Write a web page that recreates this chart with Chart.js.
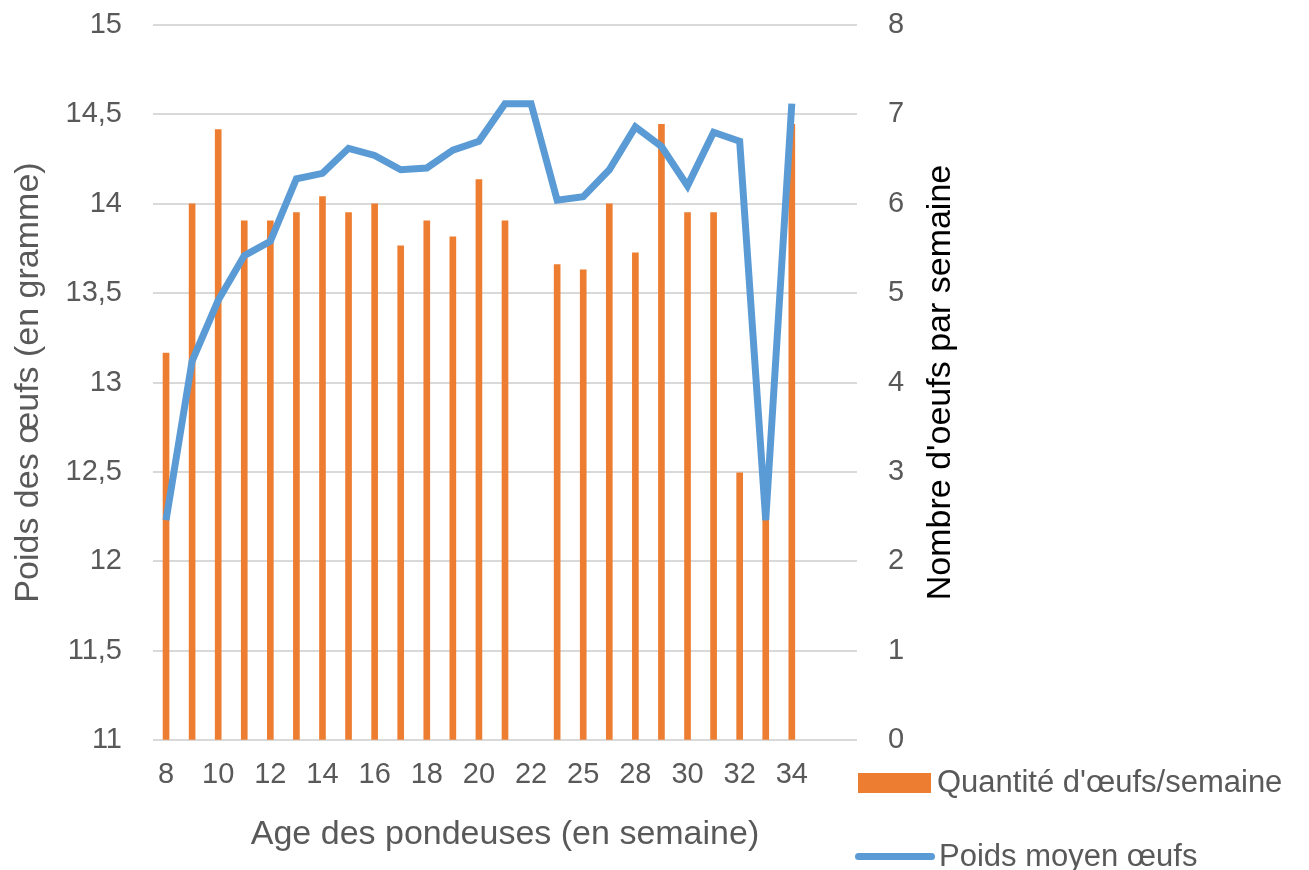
<!DOCTYPE html>
<html>
<head>
<meta charset="utf-8">
<script src="https://cdn.jsdelivr.net/npm/chart.js@4"></script>
<style>
  body { margin: 0; background: #fff; }
  #wrap { position: relative; width: 1309px; height: 870px; overflow: hidden; }
  .leg { position: absolute; font-family: "Liberation Sans", Arial, sans-serif; font-size: 31px; color: #595959; white-space: nowrap; }
  .sw { position: absolute; }
</style>
</head>
<body>
<div id="wrap">
  <canvas id="eggChart" width="1309" height="870"></canvas>
  <div class="sw" style="left:858px; top:773px; width:73px; height:20px; background:#ed7d31;"></div>
  <div class="leg" style="left:937px; top:764px;">Quantité d'œufs/semaine</div>
  <div class="sw" style="left:855px; top:853px; width:80px; height:7px; border-radius:4px; background:#5b9bd5;"></div>
  <div class="leg" style="left:939px; top:838px;">Poids moyen œufs</div>
</div>
<script>
// age des pondeuses (semaines) - deux colonnes vides en fin d'axe
const weeks = ['8', '9', '10', '11', '12', '13', '14', '15', '16', '17', '18', '19', '20', '21', '22',
               '23', '25', '26', '28', '29', '30', '31', '32', '33', '34', '', ''];
// nombre d'oeufs par semaine (axe de droite)
const eggCount = [4.33, 6.0, 6.83, 5.81, 5.81, 5.9, 6.08, 5.9, 6.0, 5.53, 5.81, 5.63, 6.27, 5.81, null,
                  5.32, 5.26, 6.0, 5.45, 6.89, 5.9, 5.9, 2.99, 2.5, 6.89];
// poids moyen des oeufs en gramme (axe de gauche)
const eggWeight = [12.23, 13.12, 13.46, 13.71, 13.79, 14.14, 14.17, 14.31, 14.27, 14.19, 14.2, 14.3, 14.35, 14.56, 14.56,
                   14.02, 14.04, 14.19, 14.43, 14.32, 14.1, 14.4, 14.35, 12.23, 14.56];

const leftTitle = 'Poids des œufs (en gramme)';
const rightTitle = "Nombre d'oeufs par semaine";
const xTitle = 'Age des pondeuses (en semaine)';

const grey = '#595959';
const gridGrey = '#d9d9d9';
const fontFam = '"Liberation Sans", Arial, sans-serif';

// titre de droite, lu de bas en haut
const rightTitlePlugin = {
    id: 'rightTitlePlugin',
    afterDraw(chart) {
        const ctx = chart.ctx;
        const area = chart.chartArea;
        ctx.save();
        ctx.translate(chart.scales.y1.left + 84, (area.top + area.bottom) / 2);
        ctx.rotate(-Math.PI / 2);
        ctx.font = '34px ' + fontFam;
        ctx.fillStyle = '#000';
        ctx.textAlign = 'center';
        ctx.textBaseline = 'middle';
        ctx.fillText(rightTitle, 0, 0);
        ctx.restore();
    }
};

function fixWidth(w) {
    return s => {
        s.width = w;
        s.paddingTop = 0;
        s.paddingBottom = 0;
    };
}

new Chart(document.getElementById('eggChart'), {
    data: {
        labels: weeks,
        datasets: [{
            type: 'line',
            label: 'Poids moyen œufs',
            data: eggWeight,
            yAxisID: 'y',
            borderColor: '#5b9bd5',
            borderWidth: 7,
            pointRadius: 0,
            tension: 0,
            order: 0
        }, {
            type: 'bar',
            label: "Quantité d'œufs/semaine",
            data: eggCount,
            yAxisID: 'y1',
            backgroundColor: '#ed7d31',
            barThickness: 6,
            order: 1
        }]
    },
    options: {
        responsive: false,
        animation: false,
        devicePixelRatio: 1,
        layout: { padding: { top: 25, left: 0, right: 0, bottom: 0 } },
        plugins: { legend: { display: false }, tooltip: { enabled: false } },
        scales: {
            x: {
                grid: { display: false, drawTicks: false },
                border: { display: false },
                ticks: {
                    autoSkip: false,
                    maxRotation: 0,
                    padding: 18,
                    color: grey,
                    font: { family: fontFam, size: 29 },
                    callback: (val, i) => i % 2 === 0 ? weeks[i] : ''
                },
                title: {
                    display: true,
                    text: xTitle,
                    color: grey,
                    font: { family: fontFam, size: 34 },
                    padding: { top: 0, bottom: 15 }
                },
                afterFit: s => { s.height = 130; s.paddingLeft = 0; s.paddingRight = 0; }
            },
            y: {
                position: 'left',
                min: 11,
                max: 15,
                grid: { color: gridGrey, lineWidth: 2, drawTicks: false },
                border: { display: false },
                ticks: {
                    stepSize: 0.5,
                    padding: 31,
                    color: grey,
                    font: { family: fontFam, size: 29 },
                    callback: v => String(v).replace('.', ',')
                },
                title: {
                    display: true,
                    text: leftTitle,
                    color: grey,
                    font: { family: fontFam, size: 34 },
                    padding: { top: 8, bottom: 0 }
                },
                afterFit: fixWidth(153)
            },
            y1: {
                position: 'right',
                min: 0,
                max: 8,
                grid: { drawOnChartArea: false, drawTicks: false },
                border: { display: false },
                ticks: {
                    stepSize: 1,
                    padding: 31,
                    color: grey,
                    font: { family: fontFam, size: 29 }
                },
                afterFit: fixWidth(452)
            }
        }
    },
    plugins: [rightTitlePlugin]
});
</script>
</body>
</html>
